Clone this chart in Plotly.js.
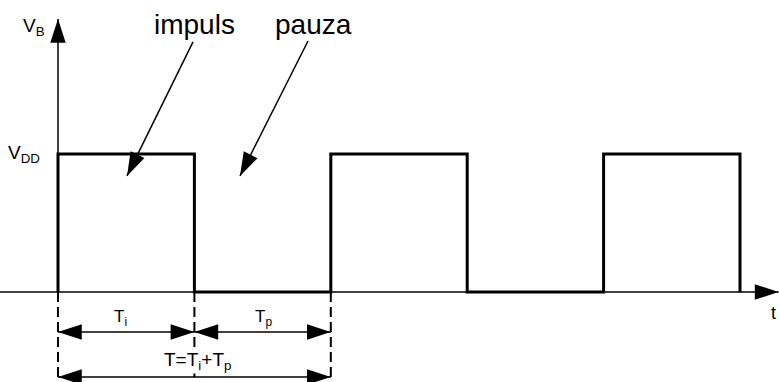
<!DOCTYPE html>
<html><head><meta charset="utf-8">
<script src="https://cdn.plot.ly/plotly-3.0.1.min.js"></script>
<style>html,body{margin:0;padding:0;background:#fff;overflow:hidden;} #chart{width:779px;height:382px;}</style>
</head><body><div id="chart"></div>
<script>
// ---- data (time in units of Ti, voltage in units of VDD) ----
const pulseStart = [0, 2, 4];
const pulseEnd   = [1, 3, 5];
const VDD = 1;
const Ti = 1;
const Tp = 1;
const tAxisTip = 5.283;
const vAxisTip = 1.978;
const tAxisStart = -0.43;
const dimLevels = [-0.29, -0.616];        // Ti/Tp row, T row
const calloutFrom = [[0.99, 1.812], [1.833, 1.819]];
const calloutTo   = [[0.506, 0.841], [1.334, 0.841]];
const calloutText = ['impuls', 'pauza'];

const xRange = [-0.4252, 5.2859];
const yRange = [-0.6522, 2.1159];
const W = 779, H = 382;

// ---- build waveform ----
const waveT = [], waveV = [];
for (let i = 0; i < pulseStart.length; i++) {
  waveT.push(pulseStart[i], pulseStart[i], pulseEnd[i], pulseEnd[i]);
  waveV.push(0, VDD, VDD, 0);
}

const ARROW = 25;
const traces = [];
function head(x, y, angle) {
  traces.push({x: [x], y: [y], mode: 'markers',
    marker: {symbol: 'arrow', size: ARROW, angle: angle, color: '#000', opacity: 1,
             line: {width: 0}}});
}
function seg(x, y, width, dash) {
  traces.push({x: x, y: y, mode: 'lines', line: {color: '#000', width: width, dash: dash || 'solid'}});
}
// axes
seg([tAxisStart, tAxisTip], [0, 0], 1.5);
head(tAxisTip, 0, 90);
seg([0, 0], [0, vAxisTip], 1.5);
head(0, vAxisTip, 0);
// waveform
seg(waveT, waveV, 3);
// dashed extension lines
const edges = [0, Ti, Ti + Tp];
edges.forEach(e => seg([e, e], [0, -0.7], 2, '10px,5px'));
// dimension arrows
function dim(t0, t1, v) {
  seg([t0, t1], [v, v], 1.5);
  head(t0, v, -90);
  head(t1, v, 90);
}
dim(0, Ti, dimLevels[0]);
dim(Ti, Ti + Tp, dimLevels[0]);
dim(0, Ti + Tp, dimLevels[1]);
// callout arrows
const pxT = W / (xRange[1] - xRange[0]);
const pxV = H / (yRange[1] - yRange[0]);
for (let i = 0; i < calloutFrom.length; i++) {
  const f = calloutFrom[i], t = calloutTo[i];
  seg([f[0], t[0]], [f[1], t[1]], 1.5);
  const ang = Math.atan2((t[0] - f[0]) * pxT, (t[1] - f[1]) * pxV) * 180 / Math.PI;
  head(t[0], t[1], ang);
}

const F = 'Liberation Sans, Arial, sans-serif';
function txt(x, y, text, size, bg) {
  return {x: x, y: y, xref: 'x', yref: 'y', text: text, showarrow: false,
    xanchor: 'center', yanchor: 'middle', bgcolor: bg || 'rgba(0,0,0,0)', borderpad: 0,
    font: {family: F, size: size, color: '#000'}};
}
const annotations = [
  txt(-0.176, 1.92, 'V<sub>B</sub>', 19),
  txt(-0.25, 1.0, 'V<sub>DD</sub>', 19),
  txt(5.242, -0.152, 't', 18),
  txt(1.0, 1.935, calloutText[0], 28),
  txt(1.873, 1.935, calloutText[1], 28),
  txt(0.455, -0.19, 'T<sub>i</sub>', 17),
  txt(1.503, -0.19, 'T<sub>p</sub>', 17),
  txt(1.02, -0.5, 'T=T<sub>i</sub>+T<sub>p</sub>', 19, '#fff')
];

const layout = {
  width: W, height: H, margin: {l: 0, r: 0, t: 0, b: 0},
  paper_bgcolor: '#fff', plot_bgcolor: '#fff', showlegend: false,
  xaxis: {range: xRange, visible: false, fixedrange: true},
  yaxis: {range: yRange, visible: false, fixedrange: true},
  annotations: annotations
};
Plotly.newPlot('chart', traces, layout, {staticPlot: true, displayModeBar: false});
</script></body></html>
